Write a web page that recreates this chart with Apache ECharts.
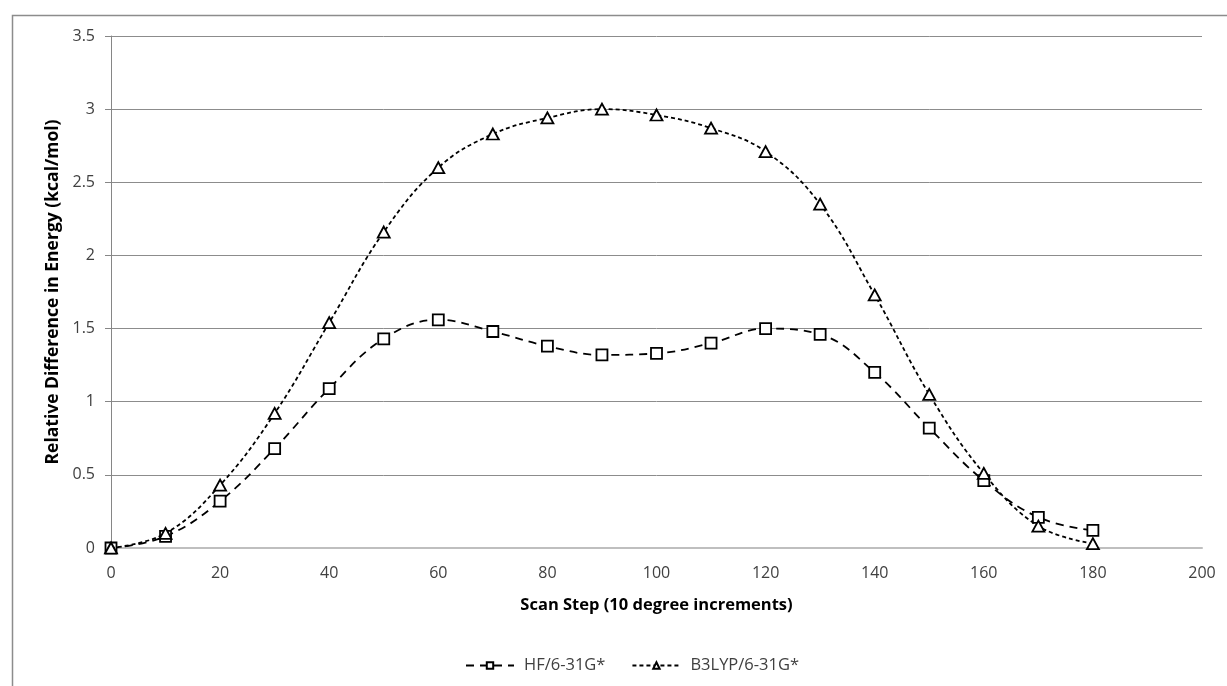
<!DOCTYPE html>
<html>
<head>
<meta charset="utf-8">
<script src="https://cdn.jsdelivr.net/npm/echarts@6/dist/echarts.min.js"></script>
<style>
  html, body { margin: 0; padding: 0; background: #fff; }
  #chart { width: 1227px; height: 686px; }
</style>
</head>
<body>
<div id="chart"></div>
<script>
const steps = [0, 10, 20, 30, 40, 50, 60, 70, 80, 90, 100, 110, 120, 130, 140, 150, 160, 170, 180];
const hfValues = [0, 0.08, 0.32, 0.68, 1.09, 1.43, 1.56, 1.48, 1.38, 1.32, 1.33, 1.40, 1.50, 1.46, 1.20, 0.82, 0.46, 0.21, 0.12];
const b3lypValues = [0, 0.10, 0.43, 0.92, 1.54, 2.16, 2.60, 2.83, 2.94, 3.00, 2.96, 2.87, 2.71, 2.35, 1.73, 1.05, 0.51, 0.15, 0.03];
const seriesNames = ["HF/6-31G*", "B3LYP/6-31G*"];

const font = "'Open Sans', 'Noto Sans', sans-serif";
const pairs = (vals) => steps.map((s, i) => [s, vals[i]]);

const chart = echarts.init(document.getElementById("chart"));

chart.setOption({
  animation: false,
  textStyle: { fontFamily: font },
  graphic: [
    {
      type: "rect",
      left: 10,
      top: 13,
      shape: { width: 1300, height: 800 },
      style: { fill: "none", stroke: "#8c8c8c", lineWidth: 1.5 },
      silent: true
    }
  ],
  grid: { left: 111, right: 25, top: 36, bottom: 138 },
  legend: {
    left: 460,
    top: 652,
    itemWidth: 48,
    itemHeight: 8,
    itemGap: 26,
    textStyle: { fontFamily: font, fontSize: 16.5, color: "#404040", padding: [0, 0, 0, 5] },
    data: seriesNames
  },
  xAxis: {
    type: "value",
    min: 0,
    max: 200,
    interval: 20,
    name: "Scan Step (10 degree increments)",
    nameLocation: "middle",
    nameGap: 49,
    nameTextStyle: { fontFamily: font, fontSize: 16.5, fontWeight: "bold", color: "#000" },
    axisLine: { show: true, lineStyle: { color: "#bfbfbf", width: 2 } },
    axisTick: { show: false },
    axisLabel: { margin: 17, fontSize: 16, color: "#404040", fontFamily: font },
    splitLine: { show: false }
  },
  yAxis: {
    type: "value",
    min: 0,
    max: 3.5,
    interval: 0.5,
    name: "Relative Difference in Energy (kcal/mol)",
    nameLocation: "middle",
    nameGap: 49,
    nameTextStyle: { fontFamily: font, fontSize: 17.5, fontWeight: "bold", color: "#000" },
    axisLine: { show: true, lineStyle: { color: "#868686", width: 1 } },
    axisTick: { show: true, length: 6, lineStyle: { color: "#868686" } },
    axisLabel: { margin: 16, fontSize: 16, color: "#404040", fontFamily: font },
    splitLine: { show: true, lineStyle: { color: "#8c8c8c", width: 1 } }
  },
  series: [
    {
      name: seriesNames[0],
      type: "line",
      data: pairs(hfValues),
      smooth: 0.4,
      symbol: "rect",
      symbolSize: 11,
      itemStyle: { color: "#fff", borderColor: "#000", borderWidth: 1.8 },
      lineStyle: { color: "#000", width: 1.8, type: [8, 6] },
      z: 3
    },
    {
      name: seriesNames[1],
      type: "line",
      data: pairs(b3lypValues),
      smooth: 0.4,
      symbol: "triangle",
      symbolSize: [12, 11],
      itemStyle: { color: "#fff", borderColor: "#000", borderWidth: 1.8 },
      lineStyle: { color: "#000", width: 1.8, type: [4, 3] },
      z: 4
    }
  ]
});
</script>
</body>
</html>
